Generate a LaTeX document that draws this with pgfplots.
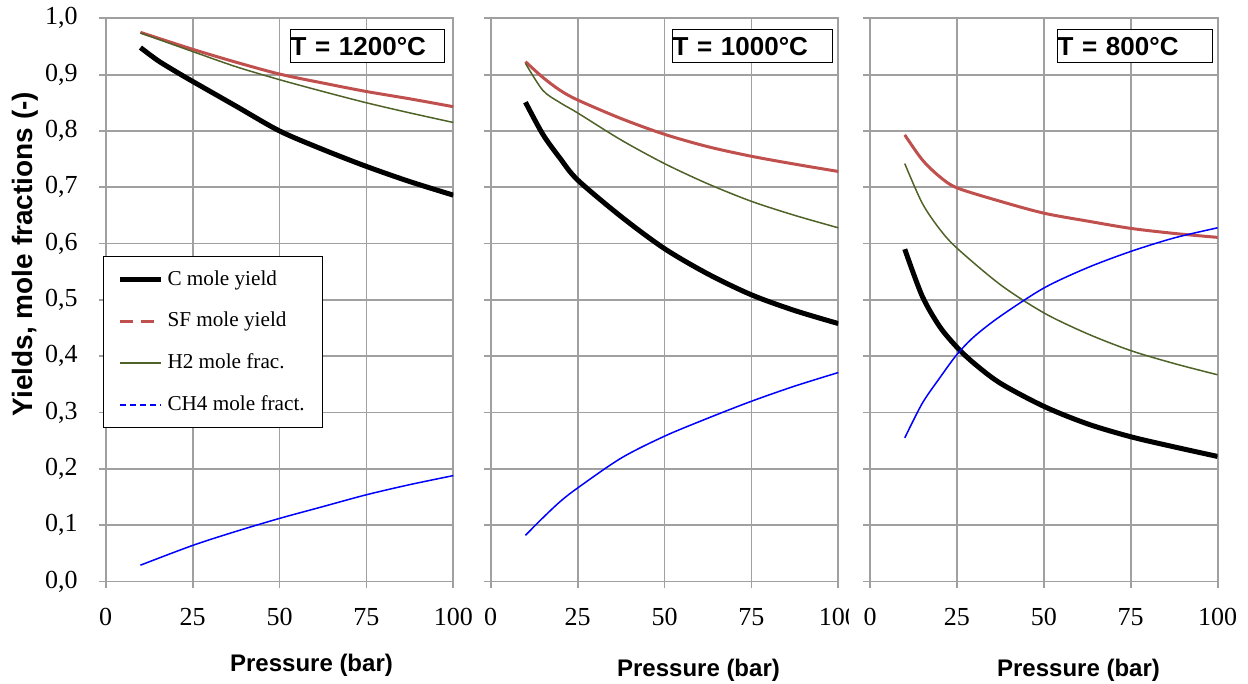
\documentclass[border=0pt]{standalone}
\usepackage{fontspec}
\setmainfont{Liberation Serif}
\newfontfamily\arial{Liberation Sans}
\usepackage{pgfplots}
\pgfplotsset{compat=1.18}

\definecolor{gridgray}{RGB}{160,160,160}
\definecolor{sfred}{RGB}{192,80,77}
\definecolor{hgreen}{RGB}{79,98,40}
\definecolor{cblue}{RGB}{0,0,255}

\pgfplotsset{
  panel/.style={
    scale only axis, width=173.8pt, height=281.6pt,
    anchor=south west,
    xmin=0, xmax=100, ymin=0, ymax=1,
    xtick={0,25,50,75,100},
    ytick={0,0.1,0.2,0.3,0.4,0.5,0.6,0.7,0.8,0.9,1},
    grid=major,
    major grid style={gridgray, line width=0.9pt},
    axis line style={gridgray, line width=0.9pt},
    tick style={gridgray, line width=0.9pt},
    tick align=outside, major tick length=3.5pt,
    xtick pos=bottom, ytick pos=left,
    /pgf/number format/assume math mode=true,
    tick label style={font=\fontsize{13}{15}\selectfont, black},
    y tick label style={/pgf/number format/.cd, use comma, fixed, fixed zerofill, precision=1, /tikz/.cd},
    xticklabel style={yshift=-6.5pt},
    yticklabel style={xshift=-7pt},
    every axis plot/.append style={no marks, smooth, tension=0.5},
  },
  cline/.style={black, line width=2.5pt},
  sfline/.style={sfred, line width=1.5pt},
  hline/.style={hgreen, line width=0.75pt},
  chline/.style={cblue, line width=0.75pt},
}

\begin{document}
\begin{tikzpicture}
\path[use as bounding box] (0,0) rectangle (624pt,342pt);

% T = 1200 C
\begin{axis}[panel, at={(52.85pt,51.25pt)},
  legend style={at={(rel axis cs:-0.008,0.578)}, anchor=north west,
    draw=black, line width=0.6pt, fill=white,
    font=\fontsize{10.6}{12.5}\selectfont,
    inner xsep=7pt, inner ysep=5pt, row sep=8pt,
    cells={anchor=west}},
  legend cell align=left,
  legend image code/.code={\draw[#1, line cap=butt] (0pt,0pt) -- (20.5pt,0pt);}]
\addplot[cline, forget plot] coordinates {(10,0.948)(15,0.925)(20,0.906)(25,0.888)(37.5,0.844)(50,0.800)(62.5,0.767)(75,0.737)(87.5,0.710)(100,0.686)};
\addplot[sfline, forget plot] coordinates {(10,0.975)(25,0.945)(37.5,0.922)(50,0.901)(62.5,0.885)(75,0.870)(87.5,0.857)(100,0.843)};
\addplot[hline, forget plot] coordinates {(10,0.974)(25,0.941)(37.5,0.914)(50,0.891)(62.5,0.870)(75,0.850)(87.5,0.832)(100,0.815)};
\addplot[chline, forget plot] coordinates {(10,0.029)(25,0.064)(37.5,0.089)(50,0.112)(62.5,0.133)(75,0.154)(87.5,0.172)(100,0.188)};
\addlegendimage{cline}
\addlegendentry{C mole yield}
\addlegendimage{sfline, dash pattern=on 6.5pt off 4pt}
\addlegendentry{SF mole yield}
\addlegendimage{hline}
\addlegendentry{H2 mole frac.}
\addlegendimage{chline, dash pattern=on 3pt off 2pt}
\addlegendentry{CH4 mole fract.\hspace{10pt}}
\end{axis}

% T = 1000 C
\begin{axis}[panel, at={(245.35pt,51.25pt)}, yticklabels={}]
\addplot[cline] coordinates {(10,0.851)(15,0.794)(20,0.751)(25,0.713)(37.5,0.648)(50,0.591)(62.5,0.546)(75,0.509)(87.5,0.481)(100,0.458)};
\addplot[sfline] coordinates {(10,0.923)(15,0.895)(20,0.872)(25,0.855)(37.5,0.822)(50,0.794)(62.5,0.772)(75,0.755)(87.5,0.741)(100,0.728)};
\addplot[hline] coordinates {(10,0.920)(15,0.872)(20,0.850)(25,0.832)(37.5,0.784)(50,0.742)(62.5,0.706)(75,0.675)(87.5,0.650)(100,0.628)};
\addplot[chline] coordinates {(10,0.082)(15,0.113)(20,0.142)(25,0.166)(37.5,0.219)(50,0.258)(62.5,0.290)(75,0.320)(87.5,0.347)(100,0.371)};
\end{axis}

\fill[white] (424.5pt,22pt) rectangle (432pt,46pt);

% T = 800 C
\begin{axis}[panel, at={(435pt,51.25pt)}, yticklabels={}]
\addplot[cline] coordinates {(10,0.590)(15,0.507)(20,0.453)(25,0.416)(30,0.387)(37.5,0.352)(50,0.311)(62.5,0.280)(75,0.257)(87.5,0.239)(100,0.222)};
\addplot[sfline] coordinates {(10,0.793)(15,0.749)(20,0.719)(25,0.699)(37.5,0.675)(50,0.654)(62.5,0.640)(75,0.627)(87.5,0.618)(100,0.611)};
\addplot[hline] coordinates {(10,0.742)(15,0.672)(20,0.626)(25,0.592)(37.5,0.527)(50,0.477)(62.5,0.440)(75,0.410)(87.5,0.387)(100,0.367)};
\addplot[chline] coordinates {(10,0.255)(15,0.316)(20,0.361)(25,0.403)(30,0.435)(37.5,0.471)(50,0.521)(62.5,0.557)(75,0.586)(87.5,0.610)(100,0.628)};
\end{axis}

% temperature boxes
\tikzset{tbox/.style={draw=black, line width=0.6pt, fill=white, anchor=north west,
  inner xsep=0pt, inner ysep=0pt, minimum height=16.5pt, align=left,
  font=\arial\bfseries\fontsize{13}{15}\selectfont}}
\node[tbox, text width=77pt] at (145pt,327.5pt) {T = 1200°C};
\node[tbox, text width=80pt] at (336pt,327.5pt) {T = 1000°C};
\node[tbox, text width=77.5pt] at (528.5pt,327.5pt) {T = 800°C};

% axis titles
\tikzset{atitle/.style={anchor=base, inner sep=0pt, font=\arial\bfseries\fontsize{12}{14}\selectfont}}
\node[atitle] at (155.75pt,6pt) {Pressure (bar)};
\node[atitle] at (349.25pt,3.5pt) {Pressure (bar)};
\node[atitle] at (539.25pt,3.5pt) {Pressure (bar)};
\node[atitle, rotate=90, font=\arial\bfseries\fontsize{14}{16}\selectfont] at (16.5pt,215pt) {Yields, mole fractions (-)};
\end{tikzpicture}
\end{document}
